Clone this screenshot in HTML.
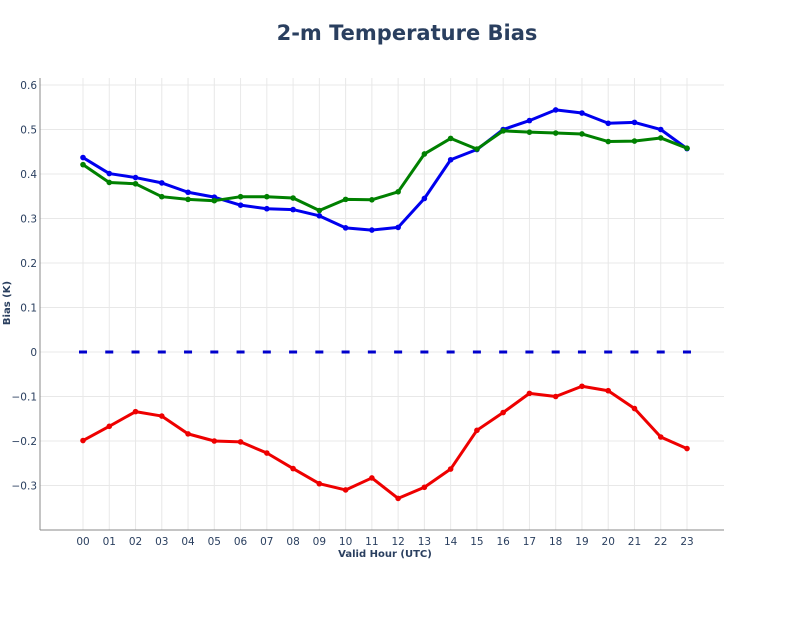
<!DOCTYPE html>
<html><head><meta charset="utf-8"><style>
body{margin:0;background:#fff;width:792px;height:612px;overflow:hidden}
svg{font-family:"DejaVu Sans","Liberation Sans",sans-serif}
</style></head><body>
<svg id="s" width="792" height="612" xmlns="http://www.w3.org/2000/svg">
<text x="407" y="40" text-anchor="middle" font-size="21" font-weight="bold" fill="#2a3f5f">2-m Temperature Bias</text>
<g id="g"></g>
<text transform="translate(10,303) rotate(-90)" text-anchor="middle" font-size="10" font-weight="bold" fill="#2a3f5f">Bias (K)</text>
<text x="385" y="557" text-anchor="middle" font-size="10" font-weight="bold" fill="#2a3f5f">Valid Hour (UTC)</text>
</svg>
<script>
var g=document.getElementById('g'),h='';
function X(i){return 83+i*604/23}
function Y(v){return 352-v*445}
for(var i=0;i<24;i++){h+='<line x1="'+X(i)+'" x2="'+X(i)+'" y1="78" y2="530" stroke="#e8e8e8"/>';
h+='<text x="'+X(i)+'" y="545" text-anchor="middle" font-size="10.5" fill="#2a3f5f">'+(i<10?'0'+i:i)+'</text>';}
for(var k=-3;k<=6;k++){var v=k/10,y=Y(v);h+='<line x1="40" x2="724" y1="'+y+'" y2="'+y+'" stroke="#e8e8e8"/>';
h+='<text x="37" y="'+(y+4)+'" text-anchor="end" font-size="10.5" fill="#2a3f5f">'+(k==0?'0':(k<0?'\u2212':'')+'0.'+Math.abs(k))+'</text>';}
h+='<line x1="40" x2="40" y1="78" y2="530" stroke="#888"/><line x1="40" x2="724" y1="530" y2="530" stroke="#888"/>';
h+='<line x1="'+(X(0)-4)+'" x2="'+(X(23)+4)+'" y1="352" y2="352" stroke="#0000cc" stroke-width="3" stroke-dasharray="8,18.26"/>';
var S=[["#0000ee",[.437,.401,.392,.380,.359,.348,.330,.322,.320,.306,.279,.274,.280,.345,.432,.455,.500,.520,.544,.537,.514,.516,.500,.457]],
["#008000",[.421,.381,.378,.349,.343,.340,.349,.349,.346,.318,.343,.342,.360,.445,.480,.456,.497,.494,.492,.490,.473,.474,.481,.458]],
["#ee0000",[-.199,-.167,-.134,-.144,-.184,-.200,-.202,-.227,-.262,-.296,-.310,-.283,-.329,-.304,-.263,-.176,-.136,-.093,-.100,-.077,-.087,-.127,-.191,-.217]]];
S.forEach(function(s){var p=s[1].map(function(v,i){return X(i)+','+Y(v)}).join(' ');
h+='<polyline points="'+p+'" fill="none" stroke="'+s[0]+'" stroke-width="3" stroke-linejoin="round"/>';
s[1].forEach(function(v,i){h+='<circle cx="'+X(i)+'" cy="'+Y(v)+'" r="2.8" fill="'+s[0]+'"/>'});});
g.innerHTML=h;
</script>
</body></html>
